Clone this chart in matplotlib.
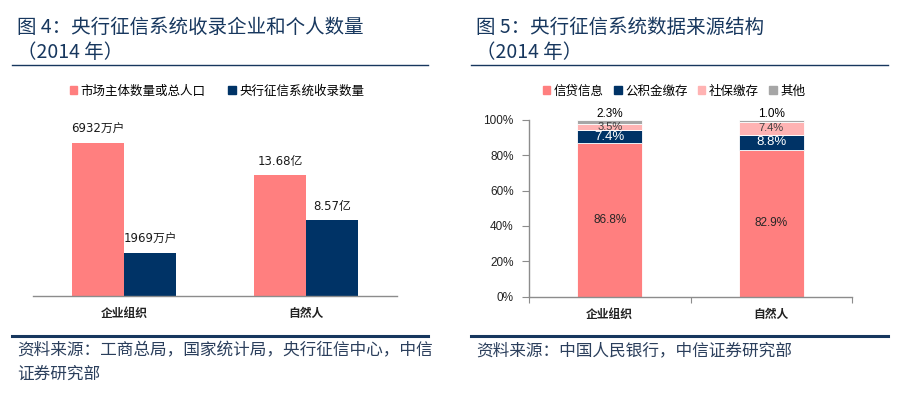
import matplotlib.pyplot as plt
import numpy as np
from matplotlib.patches import Patch
from matplotlib.lines import Line2D

plt.rcParams["font.family"] = ["Noto Sans CJK SC", "DejaVu Sans"]

NAVY = "#17375E"
PINK = "#FF7F7F"
DARK_BLUE = "#003366"
LIGHT_PINK = "#FFB3B3"
GREY = "#A6A6A6"
AXIS_GREY = "#8C8C8C"

# --- Figure 4 data ---
categories = ["企业组织", "自然人"]
total_counts = [6932, 13.68]      # 市场主体数量或总人口
credit_counts = [1969, 8.57]      # 央行征信系统收录数量
count_units = ["万户", "亿"]
display_scale = [1, 400]          # bars of the two groups are drawn on different scales
left_legend = ["市场主体数量或总人口", "央行征信系统收录数量"]

# --- Figure 5 data ---
share_credit = [86.8, 82.9]       # 信贷信息
share_fund = [7.4, 8.8]           # 公积金缴存
share_social = [3.5, 7.4]         # 社保缴存
share_other = [2.3, 1.0]          # 其他
right_legend = ["信贷信息", "公积金缴存", "社保缴存", "其他"]
ytick_vals = [0, 20, 40, 60, 80, 100]

W, H = 902, 393
fig = plt.figure(figsize=(W / 100, H / 100), dpi=100)


def fx(px):
    return px / W


def fy(py):
    return 1 - py / H


# titles, rules, sources
for x0, title in [
    (17, "图 4：央行征信系统收录企业和个人数量"),
    (476, "图 5：央行征信系统数据来源结构"),
]:
    fig.text(fx(x0), fy(27), title, fontsize=14, color=NAVY, va="center", ha="left")
    fig.text(fx(x0), fy(52), "（2014 年）", fontsize=14, color=NAVY, va="center", ha="left")

for x0, x1 in [(12, 428), (471, 888)]:
    fig.add_artist(Line2D([fx(x0), fx(x1)], [fy(65), fy(65)], color=NAVY, lw=1.0))
    fig.add_artist(Line2D([fx(x0), fx(x1)], [fy(336), fy(336)], color=NAVY, lw=2.2))

src_kw = dict(fontsize=12, color="#2B3F5C", va="center", ha="left")
fig.text(fx(17), fy(351), "资料来源：工商总局，国家统计局，央行征信中心，中信", **src_kw)
fig.text(fx(17), fy(374), "证券研究部", **src_kw)
fig.text(fx(476), fy(351), "资料来源：中国人民银行，中信证券研究部", **src_kw)

num_family = ["DejaVu Sans", "Noto Sans CJK SC"]

# ---------------- Figure 4: grouped bars ----------------
ax1 = fig.add_axes([fx(33), fy(296), fx(397) - fx(33), (296 - 110) / H])
x = np.arange(len(categories))
bw = 0.286
scale = np.array(display_scale)
h_total = np.array(total_counts) * scale
h_credit = np.array(credit_counts) * scale
b1 = ax1.bar(x - bw / 2, h_total, bw, color=PINK, edgecolor="none")
b2 = ax1.bar(x + bw / 2, h_credit, bw, color=DARK_BLUE, edgecolor="none")
for bars, vals in [(b1, total_counts), (b2, credit_counts)]:
    for rect, v, unit in zip(bars, vals, count_units):
        txt = f"{v:g}{unit}"
        ax1.annotate(txt, (rect.get_x() + rect.get_width() / 2, rect.get_height()),
                     xytext=(0, 5), textcoords="offset points", ha="center", va="bottom",
                     fontsize=8.5, family=num_family, color="#1a1a1a")
ax1.set_xlim(-0.5, 1.5)
ax1.set_ylim(0, 8430)
ax1.set_xticks(x)
ax1.set_xticklabels(categories, fontsize=8.5, fontweight="bold", color="#222222")
ax1.tick_params(axis="x", length=0, pad=8)
ax1.set_yticks([])
for s in ["top", "right", "left"]:
    ax1.spines[s].set_visible(False)
ax1.spines["bottom"].set_color(AXIS_GREY)
ax1.spines["bottom"].set_linewidth(1.0)
handles = [Patch(color=PINK), Patch(color=DARK_BLUE)]
fig.legend(handles, left_legend, loc="center", bbox_to_anchor=(fx(217), fy(91)), ncol=2,
           frameon=False, fontsize=9, handlelength=0.6, handleheight=0.6, handletextpad=0.3,
           columnspacing=1.8)

# ---------------- Figure 5: stacked bars ----------------
ax2 = fig.add_axes([fx(529), fy(296.5), fx(852) - fx(529), (296.5 - 120) / H])
x2 = np.arange(len(categories))
bw2 = 0.4
series = [
    (share_credit, PINK, "#262626", 8.5),
    (share_fund, DARK_BLUE, "white", 9.5),
    (share_social, LIGHT_PINK, "#404040", 8.0),
    (share_other, GREY, "black", 8.5),
]
bottom = np.zeros(len(categories))
for vals, col, tcol, fs in series:
    vals = np.array(vals)
    ax2.bar(x2, vals, bw2, bottom=bottom, color=col, edgecolor="white", linewidth=0.6, clip_on=False)
    for xi, b, v in zip(x2, bottom, vals):
        if col == GREY:
            ax2.annotate(f"{v:.1f}%", (xi, 100), xytext=(0, 0), textcoords="offset points",
                         ha="center", va="bottom", fontsize=fs, family="Liberation Sans", color=tcol)
        else:
            ax2.text(xi, b + v / 2, f"{v:.1f}%", ha="center", va="center", fontsize=fs,
                     family="Liberation Sans", color=tcol)
    bottom = bottom + vals

ax2.set_xlim(-0.5, 1.5)
ax2.set_ylim(0, 100)
ax2.set_yticks(ytick_vals)
ax2.set_yticklabels([f"{v}%" for v in ytick_vals], fontsize=8.5, family="Liberation Sans", color="#222222")
ax2.set_xticks([-0.5, 0.5, 1.5])
ax2.set_xticklabels([])
ax2.set_xticks(x2, minor=True)
ax2.set_xticklabels(categories, minor=True, fontsize=8.5, fontweight="bold", color="#222222")
ax2.tick_params(axis="x", which="major", length=4, color=AXIS_GREY, direction="out")
ax2.tick_params(axis="x", which="minor", length=0, pad=8)
ax2.tick_params(axis="y", length=5, color=AXIS_GREY, direction="out", pad=6)
for s in ["top", "right"]:
    ax2.spines[s].set_visible(False)
for s in ["left", "bottom"]:
    ax2.spines[s].set_color(AXIS_GREY)
    ax2.spines[s].set_linewidth(1.0)
handles2 = [Patch(color=c) for _, c, _, _ in series]
fig.legend(handles2, right_legend, loc="center", bbox_to_anchor=(fx(674), fy(91)), ncol=4,
           frameon=False, fontsize=9, handlelength=0.6, handleheight=0.6, handletextpad=0.3,
           columnspacing=0.8)

fig.savefig("out.png", dpi=100)
